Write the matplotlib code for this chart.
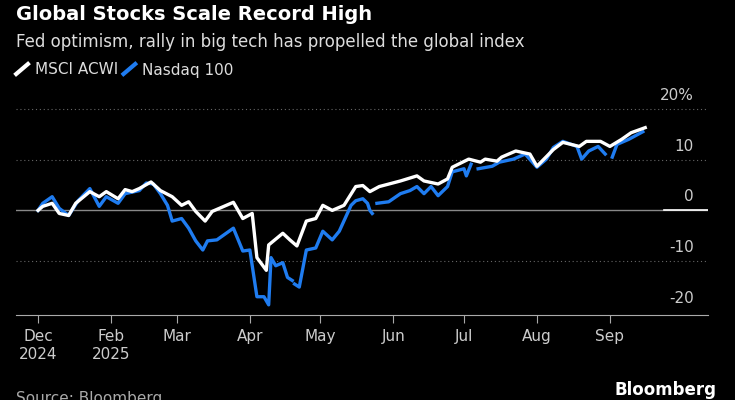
import numpy as np
import matplotlib.pyplot as plt

# days since Dec 31 2024, % change YTD
acwi_days = [1, 3, 7, 10, 14, 17, 23, 27, 30, 35, 38, 41, 44, 49, 53, 58, 62, 65, 68, 72, 75, 78, 84, 88, 92, 94,
             98, 99, 105, 108, 111, 115, 119, 122, 126, 131, 136, 139, 142, 146, 155, 162, 165, 171, 175, 177, 184,
             189, 191, 196, 198, 204, 210, 213, 220, 224, 231, 234, 240, 244, 249, 253, 259]
acwi = [0, 0.8, 1.4, -0.6, -1, 1.4, 3.7, 2.7, 3.7, 2.3, 4.1, 3.7, 4.3, 5.6, 3.9, 2.7, 1, 1.7, -0.2, -2.1, -0.2, 0.4,
        1.6, -1.6, -0.6, -9.3, -11.8, -6.8, -4.5, -5.8, -7, -2.1, -1.6, 1, 0, 1, 4.7, 4.9, 3.7, 4.7, 5.8, 6.8, 5.8,
        5.2, 6.2, 8.5, 10.1, 9.5, 10.1, 9.7, 10.5, 11.7, 11.1, 8.7, 12, 13.4, 12.6, 13.6, 13.6, 12.6, 14, 15.3, 16.3]

nan = np.nan
ndx_days = [1, 3, 7, 10, 14, 18, 23, 27, 30, 35, 38, 44, 47, 50, 53, 56, 58, 62, 65, 68, 71, 73, 77, 84, 88, 91, 94,
            97, 99, 100, 102, 105, 107, 109, 109.5, 110, 112, 115, 119, 122, 126, 129, 134, 136, 139, 141, 142, 143,
            144, 145, 150, 155, 159, 162, 165, 168, 171, 175, 177, 182, 183, 185, 186.5, 188, 194, 197, 203, 208,
            213, 217, 220, 224, 230, 232, 235, 239, 242, 243.5, 245, 247, 252, 258]
ndx = [0, 1.4, 2.7, 0.4, -1, 1.9, 4.3, 0.8, 2.7, 1.4, 3.3, 3.9, 5.4, 5.2, 3.3, 1, -2.1, -1.6, -3.5, -6, -7.8, -6,
       -5.8, -3.5, -8, -7.8, -17, -17, -18.6, -9.3, -10.9, -10.3, -13.2, -13.8, nan, -14.5, -15.1, -7.8, -7.4, -4.1,
       -5.8, -4.1, 1, 1.9, 2.3, 1.4, 0, -0.6, nan, 1.4, 1.7, 3.3, 3.9, 4.7, 3.3, 4.7, 2.9, 4.7, 7.6, 8.2, 6.8, 9.1,
       nan, 8.2, 8.7, 9.5, 10.1, 11.1, 8.5, 10.1, 12.4, 13.6, 12.6, 10.1, 11.7, 12.6, 11.1, nan, 10.5, 13, 14, 15.5]

blue = "#1f7cf0"
fig = plt.figure(figsize=(7.35, 4), dpi=100, facecolor="black")
ax = fig.add_axes([0.022, 0.2125, 0.941, 0.575], facecolor="black")

for v in [20, 10, -10]:
    ax.axhline(v, color="#666666", lw=0.8, ls=(0, (1, 2.5)))
ax.axhline(0, color="#888888", lw=1)
ax.plot([267, 285.6], [0, 0], color="white", lw=1.2)

ax.plot(ndx_days, ndx, color=blue, lw=2.4, solid_joinstyle="round")
ax.plot(acwi_days, acwi, color="white", lw=2.4, solid_joinstyle="round")

ax.set_xlim(-8.3, 285.6)
ax.set_ylim(-20.6, 24.7)
for s in ["top", "right", "left"]:
    ax.spines[s].set_visible(False)
ax.spines["bottom"].set_color("#aaaaaa")
ax.set_yticks([])
ax.set_xticks([1, 32, 60, 91, 121, 152, 182, 213, 244])
ax.set_xticklabels(["Dec\n2024", "Feb\n2025", "Mar", "Apr", "May", "Jun", "Jul", "Aug", "Sep"],
                   ha="center", va="top", linespacing=1.3)
ax.tick_params(axis="x", colors="#aaaaaa", length=6, labelcolor="#cccccc", labelsize=11, pad=4)
for v, t in [(20, "20%"), (10, "10"), (0, "0"), (-10, "-10"), (-20, "-20")]:
    ax.text(0.98, v + 1.2, t, transform=ax.get_yaxis_transform(), ha="right", va="bottom",
            color="#cccccc", fontsize=11)

fig.text(0.022, 0.965, "Global Stocks Scale Record High", color="white", fontsize=14, fontweight="bold", va="center")
fig.text(0.022, 0.895, "Fed optimism, rally in big tech has propelled the global index", color="#dddddd",
         fontsize=12, va="center")
fig.lines.append(plt.Line2D([0.022, 0.038], [0.815, 0.84], transform=fig.transFigure, color="white", lw=3))
fig.text(0.047, 0.825, "MSCI ACWI", color="#dddddd", fontsize=11, va="center")
fig.lines.append(plt.Line2D([0.168, 0.184], [0.815, 0.84], transform=fig.transFigure, color=blue, lw=3))
fig.text(0.193, 0.825, "Nasdaq 100", color="#dddddd", fontsize=11, va="center")
fig.text(0.022, 0.005, "Source: Bloomberg", color="#aaaaaa", fontsize=11, va="center")
fig.text(0.975, 0.025, "Bloomberg", color="white", fontsize=12, fontweight="bold", ha="right", va="center")

fig.savefig("out.png", facecolor="black")
